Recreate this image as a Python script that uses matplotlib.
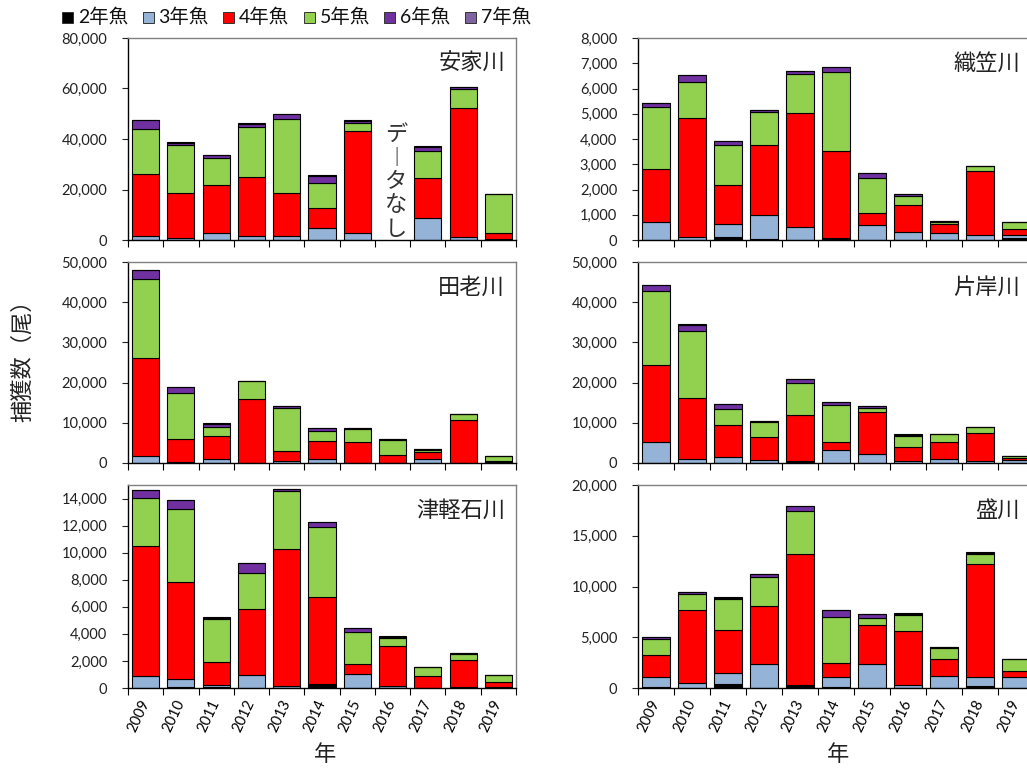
import numpy as np
import matplotlib
matplotlib.use('Agg')
import matplotlib.pyplot as plt
from matplotlib.ticker import FuncFormatter
from matplotlib.patches import Rectangle
import matplotlib.transforms as mtransforms

plt.rcParams['font.family'] = ['Lato', 'Noto Sans CJK JP', 'DejaVu Sans']

years = ['2009', '2010', '2011', '2012', '2013', '2014', '2015', '2016', '2017', '2018', '2019']
ages = ['2年魚', '3年魚', '4年魚', '5年魚', '6年魚', '7年魚']
colors = ['#000000', '#95B3D7', '#FF0000', '#92D050', '#7030A0', '#8064A2']
nan = np.nan

# 安家川 (2016: データなし)
akka_2 = [0, 100, 0, 0, 0, 100, 0, nan, 0, 0, 100]
akka_3 = [1600, 500, 2700, 1400, 1500, 4500, 2800, nan, 8600, 1100, 200]
akka_4 = [24400, 18100, 19100, 23600, 17200, 7900, 40300, nan, 16000, 51100, 2300]
akka_5 = [17800, 18800, 10500, 19800, 29100, 10100, 3400, nan, 10500, 7700, 15700]
akka_6 = [3600, 1100, 1200, 1200, 2000, 2800, 700, nan, 1700, 700, 0]
akka_7 = [300, 300, 300, 150, 150, 300, 250, nan, 250, 150, 0]

# 織笠川
orikasa_2 = [0, 0, 120, 20, 0, 80, 0, 0, 0, 0, 60]
orikasa_3 = [700, 130, 530, 980, 500, 0, 600, 320, 270, 210, 150]
orikasa_4 = [2100, 4710, 1510, 2770, 4530, 3450, 460, 1070, 370, 2540, 240]
orikasa_5 = [2450, 1410, 1590, 1300, 1550, 3140, 1390, 350, 90, 200, 280]
orikasa_6 = [190, 290, 190, 60, 120, 190, 190, 100, 20, 0, 0]
orikasa_7 = [0, 0, 0, 0, 0, 0, 0, 0, 0, 0, 0]

# 田老川
taro_2 = [0, 0, 0, 0, 0, 0, 0, 0, 0, 0, 500]
taro_3 = [1700, 200, 1000, 100, 500, 1000, 100, 0, 1000, 0, 0]
taro_4 = [24400, 5800, 5600, 15900, 2600, 4500, 5100, 2100, 1800, 10700, 100]
taro_5 = [19700, 11500, 2400, 4400, 10700, 2500, 3300, 3700, 500, 1600, 1150]
taro_6 = [2200, 1300, 800, 0, 300, 800, 100, 100, 300, 0, 0]
taro_7 = [100, 0, 200, 0, 200, 0, 0, 100, 0, 0, 0]

# 片岸川
katagishi_2 = [0, 0, 0, 0, 300, 0, 0, 0, 0, 0, 0]
katagishi_3 = [5200, 900, 1400, 700, 300, 3200, 2300, 500, 1000, 600, 700]
katagishi_4 = [19100, 15300, 8100, 5700, 11400, 2050, 10500, 3400, 4300, 6900, 500]
katagishi_5 = [18500, 16550, 3900, 3800, 8000, 9150, 800, 2900, 1800, 1350, 500]
katagishi_6 = [1500, 1650, 1300, 200, 800, 850, 500, 200, 150, 150, 0]
katagishi_7 = [0, 100, 0, 0, 0, 0, 0, 100, 0, 0, 0]

# 津軽石川
tsugaru_2 = [0, 100, 50, 0, 0, 200, 0, 0, 0, 0, 0]
tsugaru_3 = [860, 540, 150, 940, 120, 70, 1060, 120, 0, 100, 100]
tsugaru_4 = [9620, 7170, 1720, 4880, 10180, 6430, 710, 2980, 860, 1950, 370]
tsugaru_5 = [3590, 5450, 3180, 2660, 4270, 5230, 2400, 620, 670, 490, 490]
tsugaru_6 = [570, 640, 100, 740, 120, 340, 240, 60, 0, 40, 0]
tsugaru_7 = [0, 0, 30, 0, 50, 0, 0, 40, 0, 0, 0]

# 盛川
sakari_2 = [100, 0, 400, 0, 200, 100, 0, 0, 0, 200, 0]
sakari_3 = [1020, 530, 1120, 2340, 60, 990, 2380, 330, 1190, 890, 1120]
sakari_4 = [2110, 7130, 4190, 5710, 12940, 1350, 3820, 5280, 1710, 11150, 600]
sakari_5 = [1590, 1610, 3070, 2910, 4230, 4560, 700, 1620, 1030, 990, 1120]
sakari_6 = [160, 170, 80, 260, 470, 660, 430, 60, 100, 60, 0]
sakari_7 = [0, 0, 80, 0, 0, 0, 0, 100, 0, 110, 0]

rivers = [
    ('安家川', [akka_2, akka_3, akka_4, akka_5, akka_6, akka_7], 80000, 20000, 80000),
    ('織笠川', [orikasa_2, orikasa_3, orikasa_4, orikasa_5, orikasa_6, orikasa_7], 8000, 1000, 8000),
    ('田老川', [taro_2, taro_3, taro_4, taro_5, taro_6, taro_7], 50000, 10000, 50000),
    ('片岸川', [katagishi_2, katagishi_3, katagishi_4, katagishi_5, katagishi_6, katagishi_7], 50000, 10000, 50000),
    ('津軽石川', [tsugaru_2, tsugaru_3, tsugaru_4, tsugaru_5, tsugaru_6, tsugaru_7], 15000, 2000, 14000),
    ('盛川', [sakari_2, sakari_3, sakari_4, sakari_5, sakari_6, sakari_7], 20000, 5000, 20000),
]

W, H = 1027, 769
fig = plt.figure(figsize=(W / 100, H / 100), dpi=100)

col_x = [(128, 516), (638, 1034)]
row_y = [(38, 240), (262, 463), (485, 688)]
title_dx = [11, 14]

fmt = FuncFormatter(lambda v, p: f"{v:,.0f}")
x = np.arange(len(years))

for idx, (name, series, ymax, ystep, ytop) in enumerate(rivers):
    r, c = divmod(idx, 2)
    l, rr = col_x[c]
    t, b = row_y[r]
    ax = fig.add_axes([l / W, 1 - b / H, (rr - l) / W, (b - t) / H])
    bottom = np.zeros(len(years))
    for vals, col in zip(series, colors):
        v = np.array(vals, dtype=float)
        ax.bar(x, v, width=0.77, bottom=bottom, color=col, edgecolor='black', linewidth=0.8, zorder=2)
        bottom = bottom + np.nan_to_num(v)
    ax.set_xlim(-0.5, len(years) - 0.5)
    ax.set_ylim(0, ymax)
    ax.set_yticks(np.arange(0, ytop + 1, ystep))
    ax.yaxis.set_major_formatter(fmt)
    ax.tick_params(axis='y', length=4, width=0.8, direction='out', pad=11, labelsize=10.5, colors='#222222')
    ax.set_xticks(np.arange(-0.5, len(years), 1), minor=True)
    ax.tick_params(axis='x', which='minor', length=5, width=0.8, direction='out')
    ax.set_xticks(x)
    if r == 2:
        ax.set_xticklabels(years, rotation=65, ha='right', va='center', rotation_mode='anchor', fontsize=10.5)
        ax.tick_params(axis='x', which='major', length=0, pad=9)
    else:
        ax.set_xticklabels([])
        ax.tick_params(axis='x', which='major', length=0)
    ax.spines['left'].set_color('black')
    ax.spines['bottom'].set_color('black')
    ax.spines['top'].set_color('#808080')
    ax.spines['right'].set_color('#808080')
    for s in ax.spines.values():
        s.set_linewidth(1.0)
    ax.annotate(name, xy=(1, 1), xycoords='axes fraction', xytext=(-title_dx[c], -25),
                textcoords='offset pixels', ha='right', va='center', fontsize=16, color='#222222')
    if name == '安家川':
        trans = mtransforms.blended_transform_factory(ax.transData, ax.transAxes)
        ax.text(7.1, 0.29, 'デ\n︱\nタ\nな\nし', transform=trans, ha='center', va='center',
                fontsize=16, linespacing=1.02, color='#333333',
                family=['Noto Sans CJK JP', 'DejaVu Sans'])

# legend
for i, (lab, col) in enumerate(zip(ages, colors)):
    x0 = 62 + i * 80.5
    fig.patches.append(Rectangle((x0 / W, 1 - 23 / H), 11 / W, 11 / H, transform=fig.transFigure,
                                 facecolor=col, edgecolor='#333333', linewidth=0.7))
    fig.text((x0 + 16) / W, 1 - 17 / H, lab, ha='left', va='center', fontsize=14, color='#111111')

fig.text(22 / W, 1 - 355 / H, '捕獲数（尾）', rotation=90, ha='center', va='center', fontsize=16, color='#222222')
fig.text(325 / W, 1 - 755 / H, '年', ha='center', va='center', fontsize=16, color='#222222')
fig.text(838 / W, 1 - 755 / H, '年', ha='center', va='center', fontsize=16, color='#222222')

fig.savefig('out.png', dpi=100)
